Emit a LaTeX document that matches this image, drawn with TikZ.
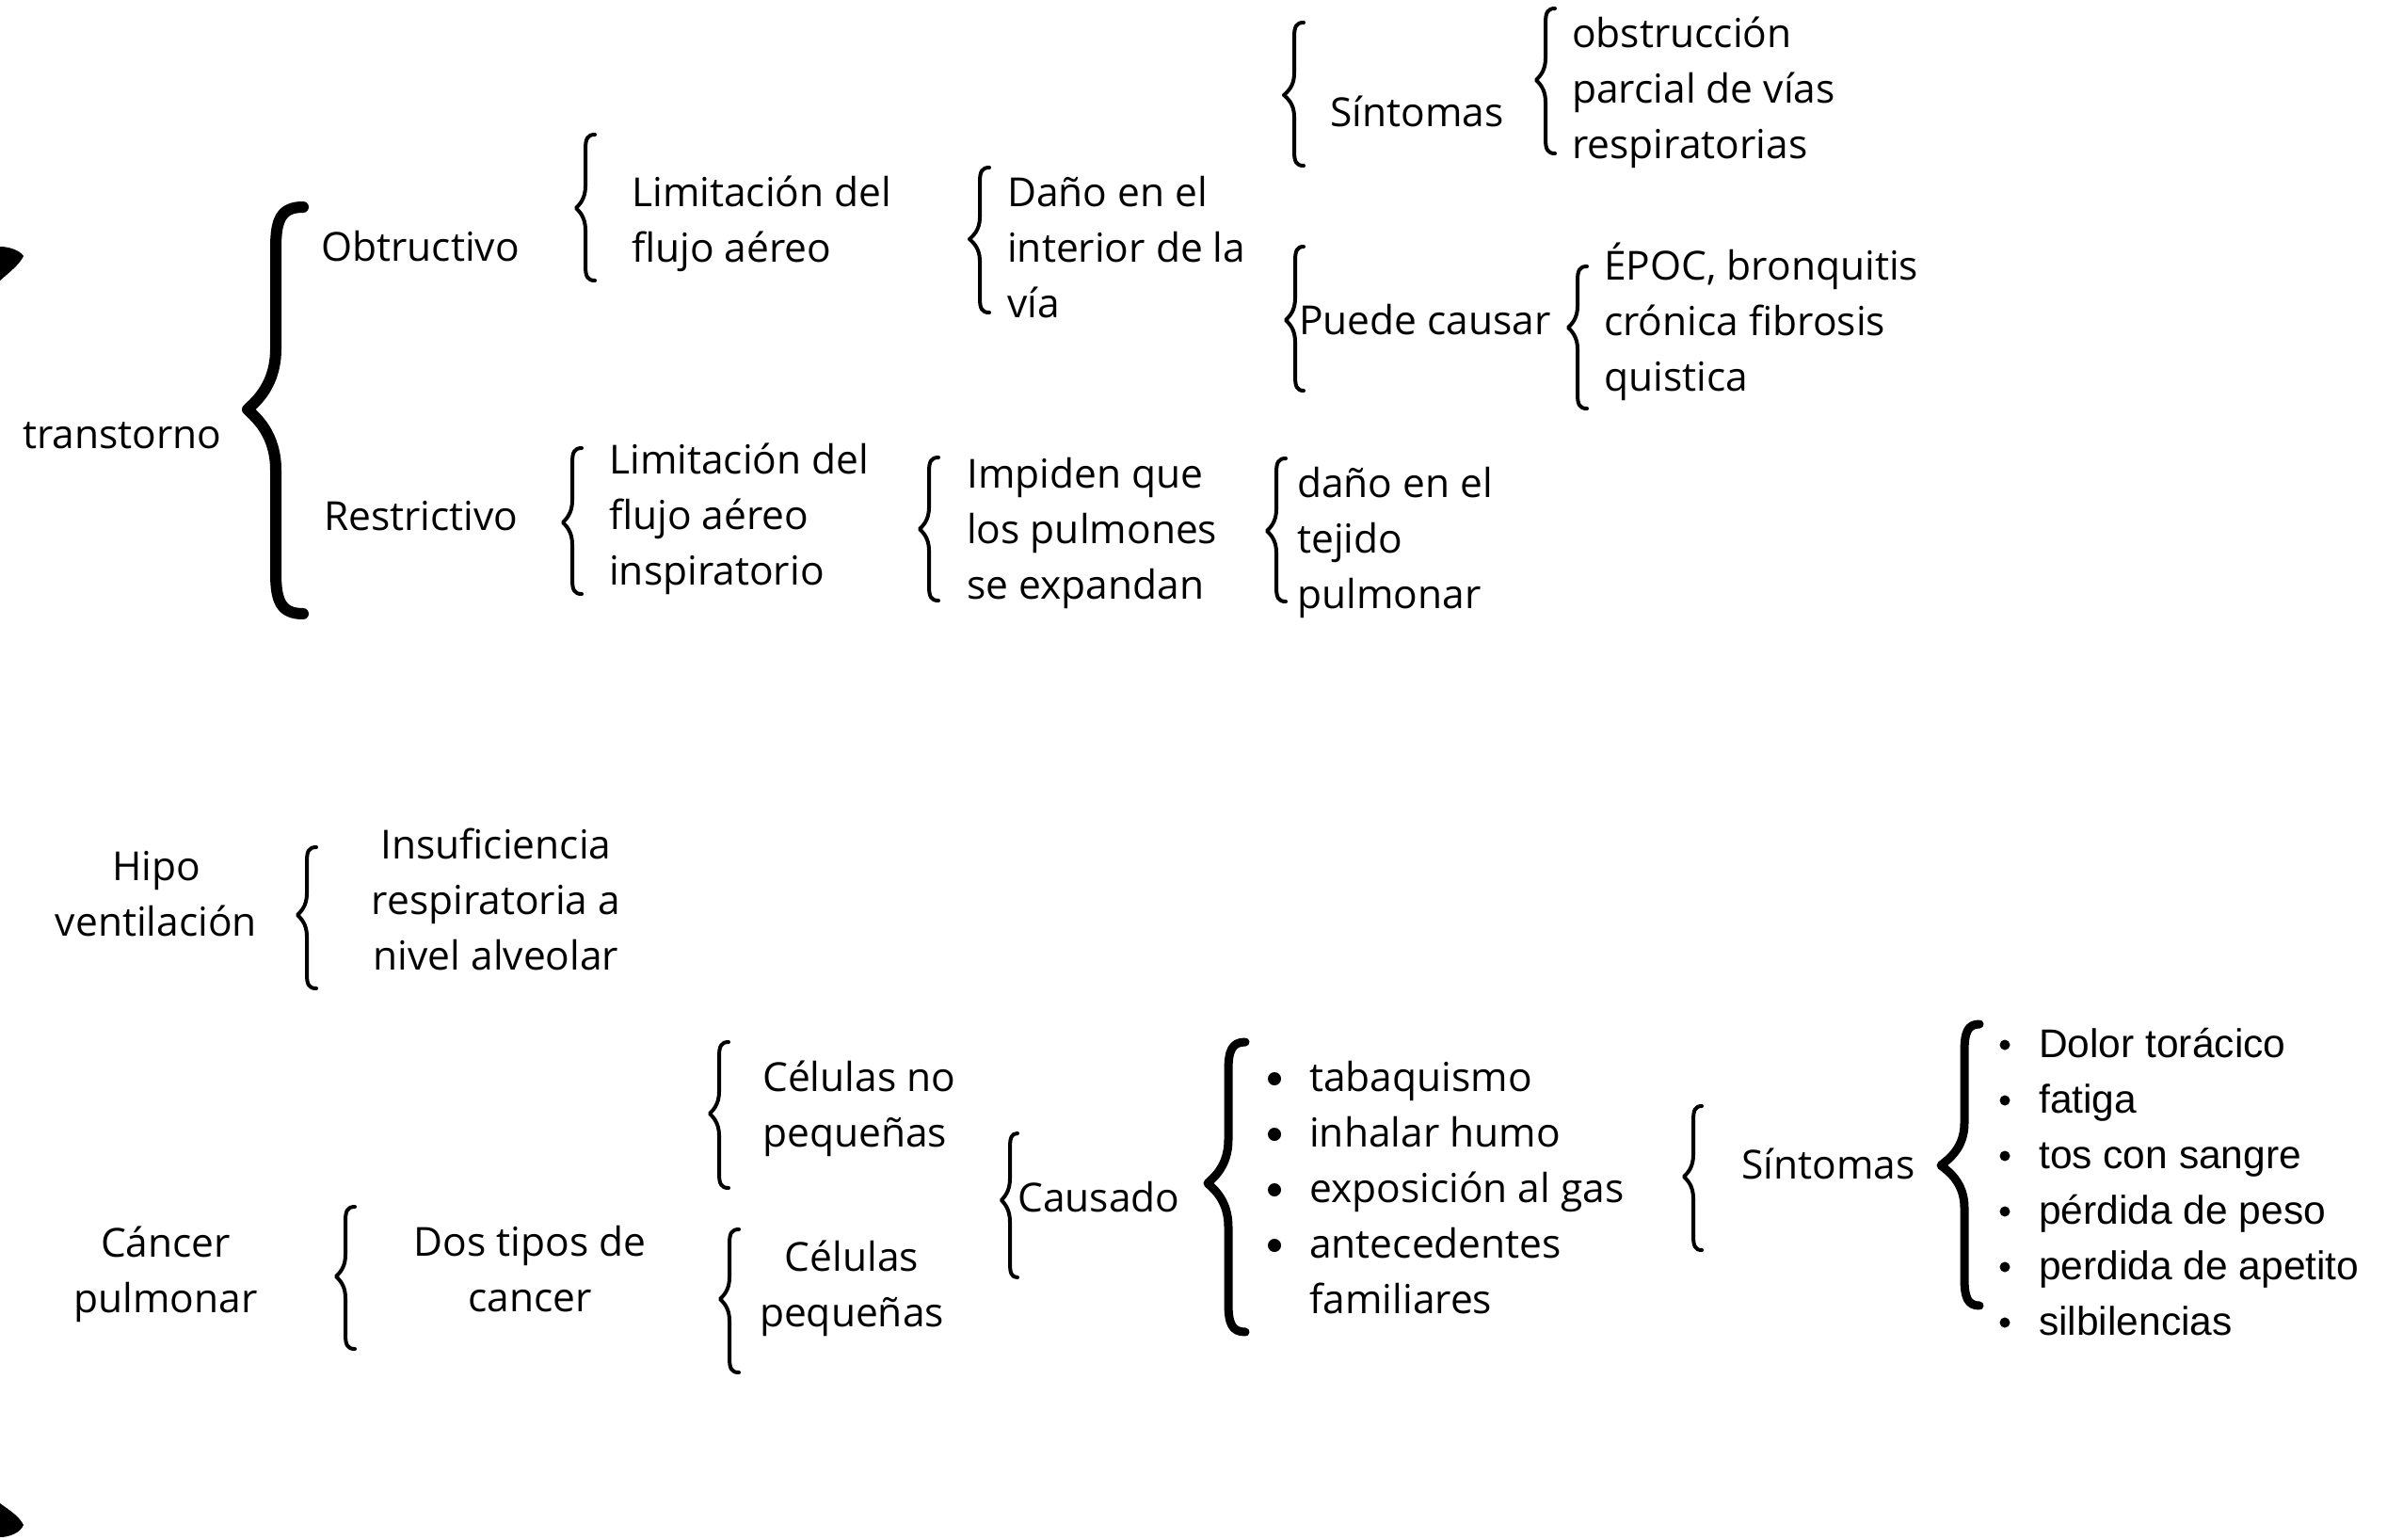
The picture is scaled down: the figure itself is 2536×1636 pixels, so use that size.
\documentclass[tikz,border=0pt]{standalone}
\usepackage{fontspec}
\setmainfont{Open Sans}
\newfontfamily\arialf{Liberation Sans}
\newcommand\brc[7][]{%
\draw[line cap=round,line join=round,#1] (#2,#5)
 .. controls ({#3+0.2*(#2-#3)},#5) and (#3,{#5+0.03*(#7-#5)}) .. (#3,{#5+0.1*(#7-#5)})
 -- (#3,{#6-0.15*(#7-#5)})
 .. controls (#3,{#6-0.06*(#7-#5)}) and ({#4+0.3*(#3-#4)},{#6-0.02*(#7-#5)}) .. (#4,#6)
 .. controls ({#4+0.3*(#3-#4)},{#6+0.02*(#7-#5)}) and (#3,{#6+0.06*(#7-#5)}) .. (#3,{#6+0.15*(#7-#5)})
 -- (#3,{#7-0.1*(#7-#5)})
 .. controls (#3,{#7-0.03*(#7-#5)}) and ({#3+0.2*(#2-#3)},#7) .. (#2,#7);}
\tikzset{
 txt/.style={font=\fontsize{42.5}{59}\selectfont, inner sep=0pt, align=left, anchor=base west},
 ctxt/.style={txt, align=center, anchor=base},
 atxt/.style={font=\arialf\fontsize{42.5}{59}\selectfont, inner sep=0pt, align=left, anchor=base west},
 thin/.style={line width=4pt},
 thick/.style={line width=9pt},
 huge/.style={line width=12pt},
 bulA/.style={circle, fill, inner sep=0pt, minimum size=14pt},
 bulB/.style={circle, fill, inner sep=0pt, minimum size=11pt}
}
\begin{document}
\begin{tikzpicture}[x=1pt,y=-1pt]
\useasboundingbox (0,0) rectangle (2536,1636);
% tips of an off-canvas brace at the left edge
\fill (0,262) .. controls (10,262) and (21,266) .. (25,272) .. controls (21,281) and (8,291) .. (0,298) -- cycle;
\fill (0,1597) .. controls (8,1603) and (20,1610) .. (25,1620) .. controls (22,1628) and (10,1633) .. (0,1633) -- cycle;

% top block (base anchor = baseline of the last line)
\node[txt] (trans) at (24,476) {transtorno};
\brc[huge]{322}{293}{263}{220}{435}{652}
\node[txt] (obt) at (341,277) {Obtructivo};
\node[txt] (res) at (344,563) {Restrictivo};
\brc[thin]{632}{622}{612}{143}{221}{298}
\node[txt] (lim1) at (671,278) {Limitación del\\flujo aéreo};
\brc[thin]{1051}{1041}{1030}{178}{254}{332}
\node[txt] (dano) at (1070,337) {Daño en el\\interior de la\\vía};
\brc[thin]{1385}{1375}{1364}{24}{101}{176}
\node[txt] (sin1) at (1413,134) {Síntomas};
\brc[thin]{1652}{1642}{1632}{9}{85}{163}
\node[txt] (obs) at (1670,168) {obstrucción\\parcial de vías\\respiratorias};
\brc[thin]{1385}{1376}{1366}{262}{340}{415}
\node[txt] (pue) at (1380,355) {Puede causar};
\brc[thin]{1686}{1676}{1666}{283}{348}{434}
\node[txt] (epoc) at (1704,415) {ÉPOC, bronquitis\\crónica fibrosis\\quistica};
\brc[thin]{618}{608}{598}{476}{555}{631}
\node[txt] (lim2) at (647,621) {Limitación del\\flujo aéreo\\inspiratorio};
\brc[thin]{997}{987}{977}{486}{562}{638}
\node[txt] (imp) at (1027,636) {Impiden que\\los pulmones\\se expandan};
\brc[thin]{1366}{1356}{1346}{487}{564}{639}
\node[txt] (dtej) at (1378,646) {daño en el\\tejido\\pulmonar};

% hipoventilacion
\node[ctxt] (hipo) at (166,994) {Hipo\\ventilación};
\brc[thin]{336}{326}{316}{900}{972}{1050}
\node[ctxt] (insu) at (527,1030) {Insuficiencia\\respiratoria a\\nivel alveolar};

% cancer
\node[ctxt] (canc) at (176,1394) {Cáncer\\pulmonar};
\brc[thin]{377}{367}{357}{1282}{1356}{1433}
\node[ctxt] (dos) at (563,1393) {Dos tipos de\\cancer};
\brc[thin]{774}{764}{754}{1107}{1183}{1262}
\node[txt] (cnp) at (810,1218) {Células no\\pequeñas};
\brc[thin]{785}{775}{765}{1306}{1380}{1458}
\node[ctxt] (cp) at (905,1409) {Células\\pequeñas};
\brc[thin]{1081}{1073}{1064}{1204}{1275}{1357}
\node[txt] (caus) at (1081,1287) {Causado};
\brc[thick]{1323}{1305}{1283}{1107}{1257}{1415}
\node[txt] (l1) at (1391,1395) {tabaquismo\\inhalar humo\\exposición al gas\\antecedentes\\familiares};
\node[bulA] (b1) at (1354,1146) {};
\node[bulA] (b2) at (1354,1205) {};
\node[bulA] (b3) at (1354,1264) {};
\node[bulA] (b4) at (1354,1323) {};
\brc[thin]{1808}{1799}{1789}{1175}{1250}{1328}
\node[txt] (sin2) at (1850,1252) {Síntomas};
\brc[thick]{2103}{2087}{2062}{1088}{1238}{1387}
\node[atxt] (l2) at (2166,1418) {Dolor torácico\\fatiga\\tos con sangre\\pérdida de peso\\perdida de apetito\\silbilencias};
\node[bulB] (c1) at (2130,1110) {};
\node[bulB] (c2) at (2130,1169) {};
\node[bulB] (c3) at (2130,1228) {};
\node[bulB] (c4) at (2130,1287) {};
\node[bulB] (c5) at (2130,1346) {};
\node[bulB] (c6) at (2130,1405) {};
\end{tikzpicture}
\end{document}
